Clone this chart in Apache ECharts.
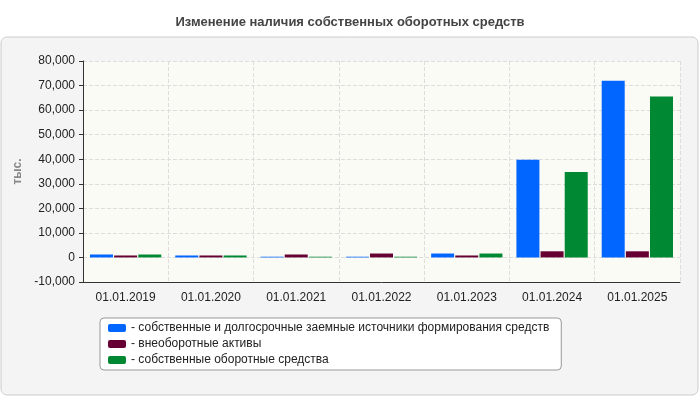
<!DOCTYPE html><html><head><meta charset="utf-8"><script src="https://cdn.jsdelivr.net/npm/echarts@6/dist/echarts.min.js"></script>
<style>body{margin:0}#c{width:700px;height:400px}</style></head><body><div id="c"></div><script>
const categories=['01.01.2019','01.01.2020','01.01.2021','01.01.2022','01.01.2023','01.01.2024','01.01.2025'];
const ownLong=[1200,800,300,300,1600,39800,72000];
const nonCurrent=[800,800,1200,1600,800,2500,2500];
const ownCurrent=[1200,800,300,300,1600,34800,65500];
const names=['- собственные и долгосрочные заемные источники формирования средств','- внеоборотные активы','- собственные оборотные средства'];
const colors=['#0066ff','#660033','#008833'];
const ch=echarts.init(document.getElementById('c'));
ch.setOption({
 graphic:[{type:'rect',shape:{x:1,y:37,width:697,height:358,r:6},style:{fill:'#f4f4f4',stroke:'#cccccc'},z:-10},
  {type:'rect',shape:{x:83,y:61,width:597,height:221},style:{fill:'#fbfbf6'},z:-5}],
 title:{text:'Изменение наличия собственных оборотных средств',left:'center',top:11,textStyle:{fontFamily:'Arial',fontSize:13,fontWeight:'bold',color:'#444'}},
 grid:{left:83,right:20,top:61,height:221},
 legend:{orient:'vertical',left:100,top:318,width:500,itemWidth:18,itemHeight:8,itemGap:4,padding:[4,12,4,8],borderColor:'#999',borderWidth:1,borderRadius:4,backgroundColor:'#fff',
  textStyle:{fontFamily:'Arial',fontSize:12,color:'#222'},data:names},
 xAxis:{type:'category',data:categories,axisLine:{onZero:false,lineStyle:{color:'#333'}},axisTick:{show:false},
  axisLabel:{fontFamily:'Arial',fontSize:12,color:'#222',margin:10},splitLine:{show:true,interval:0,lineStyle:{type:'dashed',color:'#ddd'}}},
 yAxis:{type:'value',min:-10000,max:80000,interval:10000,name:'тыс.',nameLocation:'middle',nameGap:58,nameTextStyle:{fontFamily:'Arial',fontSize:12,fontWeight:'bold',color:'#888'},
  axisLine:{show:true,lineStyle:{color:'#333'}},axisTick:{show:true,inside:false,length:4},axisLabel:{fontFamily:'Arial',fontSize:12,color:'#222'},splitLine:{lineStyle:{type:'dashed',color:'#ddd'}}},
 series:[ownLong,nonCurrent,ownCurrent].map((d,i)=>({name:names[i],type:'bar',data:d,itemStyle:{color:colors[i]},barWidth:23,barGap:'5%',barCategoryGap:'20%'}))
});
</script></body></html>
